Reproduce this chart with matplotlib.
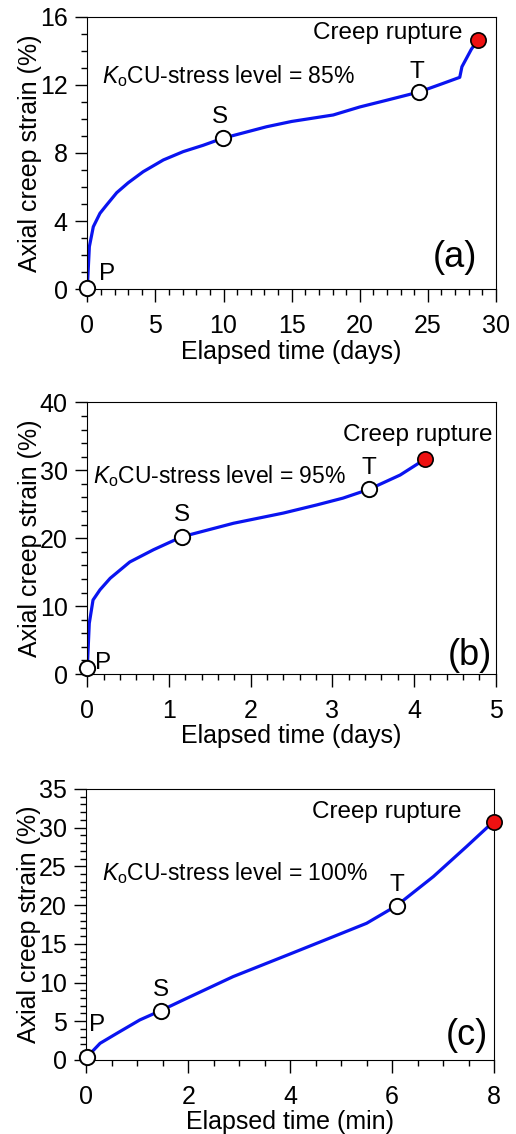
import matplotlib
matplotlib.use("Agg")
import matplotlib.pyplot as plt
from matplotlib.ticker import MultipleLocator

plt.rcParams['font.family'] = ['Liberation Sans', 'DejaVu Sans']
plt.rcParams['mathtext.fontset'] = 'custom'
plt.rcParams['mathtext.rm'] = 'Liberation Sans'
plt.rcParams['mathtext.it'] = 'Liberation Sans:italic'

# panel (a): 85% stress level, time in days
t_a = [0, 0.15, 0.44, 0.93, 1.42, 2.16, 3.0, 4.1, 5.58, 7.04, 8.5, 9.93,
       13.16, 15.0, 18.05, 20.0, 22.0, 24.36, 26.0, 27.34, 27.5, 27.83, 28.2, 28.69]
e_a = [0.08, 2.5, 3.67, 4.46, 4.95, 5.67, 6.25, 6.9, 7.59, 8.08, 8.45, 8.86,
       9.54, 9.85, 10.23, 10.7, 11.1, 11.58, 12.05, 12.44, 13.06, 13.55, 14.1, 14.63]
key_a = {"P": (0, 0.08), "S": (9.93, 8.86), "T": (24.36, 11.58)}
rup_a = (28.69, 14.63)

# panel (b): 95% stress level, time in days
t_b = [0, 0.024, 0.07, 0.155, 0.28, 0.52, 0.81, 1.155, 1.79, 2.4, 2.81, 3.13,
       3.45, 3.83, 4.13]
e_b = [0.93, 7.46, 10.9, 12.4, 14.1, 16.5, 18.3, 20.2, 22.2, 23.7, 24.9, 25.9,
       27.2, 29.3, 31.6]
key_b = {"P": (0, 0.93), "S": (1.155, 20.2), "T": (3.45, 27.2)}
rup_b = (4.13, 31.6)

# panel (c): 100% stress level, time in minutes
t_c = [0.02, 0.27, 0.6, 1.05, 1.46, 1.97, 2.88, 4.0, 4.85, 5.5, 6.09, 6.81, 7.46, 7.99]
e_c = [0.43, 2.15, 3.44, 5.17, 6.37, 7.96, 10.76, 13.69, 15.93, 17.65, 19.93,
       23.68, 27.55, 30.78]
key_c = {"P": (0.02, 0.43), "S": (1.46, 6.37), "T": (6.09, 19.93)}
rup_c = (7.99, 30.78)

panels = [
    dict(t=t_a, e=e_a, key=key_a, rup=rup_a, level="85%", tag="(a)", unit="days",
         xlim=(0, 30), ylim=(0, 16), xmaj=5, xmin=1, ymaj=4, ymin=1,
         rect=[0.1692, 0.7449, 0.7920, 0.2404],
         rup_pos=(0.919, 0.940), lev_pos=(0.035, 0.782), tag_pos=(0.954, 0.115),
         offs={"P": (14, 10), "S": (-2, 15), "T": (-1.5, 14.5)}),
    dict(t=t_b, e=e_b, key=key_b, rup=rup_b, level="95%", tag="(b)", unit="days",
         xlim=(0, 5), ylim=(0, 40), xmaj=1, xmin=0.2, ymaj=10, ymin=2,
         rect=[0.1692, 0.4056, 0.7915, 0.2396],
         rup_pos=(0.991, 0.880), lev_pos=(0.014, 0.729), tag_pos=(0.991, 0.070),
         offs={"P": (11.5, 3.4), "S": (0, 15.6), "T": (0, 15)}),
    dict(t=t_c, e=e_c, key=key_c, rup=rup_c, level="100%", tag="(c)", unit="min",
         xlim=(0, 8), ylim=(0, 35), xmaj=2, xmin=0.5, ymaj=5, ymin=1,
         rect=[0.1673, 0.0653, 0.7901, 0.2390],
         rup_pos=(0.921, 0.915), lev_pos=(0.0385, 0.690), tag_pos=(0.985, 0.092),
         offs={"P": (7, 22.8), "S": (0, 15), "T": (0, 15)}),
]

fig = plt.figure(figsize=(5.16, 11.34), dpi=100)

for p in panels:
    ax = fig.add_axes(p["rect"])
    ax.plot(p["t"], p["e"], color="#0a14f0", lw=2.3, zorder=2)
    for name, (x, y) in p["key"].items():
        ax.plot(x, y, "o", ms=11, mfc="white", mec="black", mew=1.4, clip_on=False, zorder=3)
        ax.annotate(name, (x, y), xytext=p["offs"][name], textcoords="offset points",
                    ha="center", va="center", fontsize=17.5)
    ax.plot(*p["rup"], "o", ms=11, mfc="#ee1111", mec="black", mew=1.2, clip_on=False, zorder=3)

    ax.text(*p["rup_pos"], "Creep rupture", transform=ax.transAxes, ha="right", va="center", fontsize=17.5)
    ax.text(*p["lev_pos"], r"$K_{\mathrm{o}}$CU-stress level = " + p["level"],
            transform=ax.transAxes, ha="left", va="center", fontsize=16.5)
    ax.text(*p["tag_pos"], p["tag"], transform=ax.transAxes, ha="right", va="center", fontsize=26)

    ax.set_xlim(*p["xlim"])
    ax.set_ylim(*p["ylim"])
    ax.xaxis.set_major_locator(MultipleLocator(p["xmaj"]))
    ax.xaxis.set_minor_locator(MultipleLocator(p["xmin"]))
    ax.yaxis.set_major_locator(MultipleLocator(p["ymaj"]))
    ax.yaxis.set_minor_locator(MultipleLocator(p["ymin"]))
    ax.tick_params(which="both", direction="out", top=False, right=False, labelsize=18, width=1)
    ax.tick_params(which="major", length=9)
    ax.tick_params(which="minor", length=4.5)
    ax.tick_params(axis="x", which="major", pad=9)
    ax.tick_params(axis="y", which="major", pad=5)
    ax.set_xlabel("Elapsed time (%s)" % p["unit"], fontsize=18, labelpad=1)
    ax.set_ylabel("Axial creep strain (%)", fontsize=18, labelpad=-1.5)

fig.savefig("out.png", dpi=100)
